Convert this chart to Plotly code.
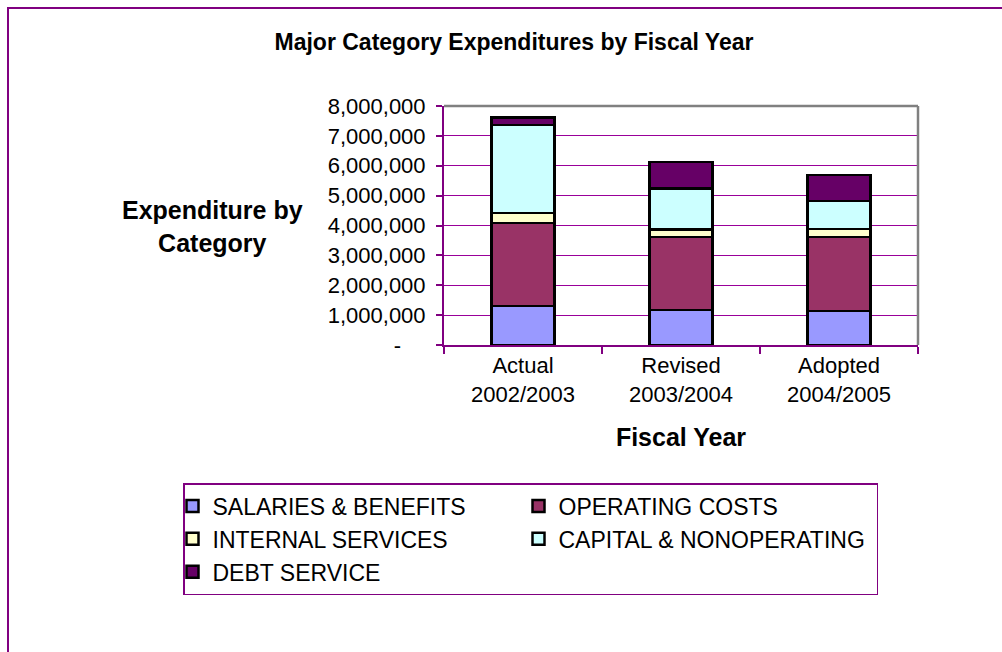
import plotly.graph_objects as go

# ---- data -------------------------------------------------------------
fiscal_years = ["Actual<br>2002/2003", "Revised<br>2003/2004", "Adopted<br>2004/2005"]

series_names = [
    "SALARIES & BENEFITS",
    "OPERATING COSTS",
    "INTERNAL SERVICES",
    "CAPITAL & NONOPERATING",
    "DEBT SERVICE",
]
salaries_benefits = [1300000, 1180000, 1140000]
operating_costs = [2780000, 2430000, 2480000]
internal_services = [340000, 250000, 260000]
capital_nonoperating = [2940000, 1380000, 940000]
debt_service = [260000, 890000, 870000]

series_colors = ["#9999FF", "#993366", "#FFFFCC", "#CCFFFF", "#660066"]

y_tick_values = [0, 1000000, 2000000, 3000000, 4000000, 5000000, 6000000, 7000000, 8000000]
y_tick_labels = ["-\u2007\u2007", "1,000,000", "2,000,000", "3,000,000", "4,000,000",
                 "5,000,000", "6,000,000", "7,000,000", "8,000,000"]

# ---- page geometry (pixels) ------------------------------------------
W, H = 1002, 652
L, R, T, B = 444, 84, 106, 307
PW, PH = W - L - R, H - T - B

def px_x(p):
    return (p - L) / PW

def px_y(p):
    return (H - B - p) / PH

FONT = "Liberation Sans, Arial, sans-serif"
PURPLE = "#800080"
GRID = "#990099"
GREY = "#808080"

fig = go.Figure()
all_series = [salaries_benefits, operating_costs, internal_services,
              capital_nonoperating, debt_service]
for name, values, color in zip(series_names, all_series, series_colors):
    fig.add_trace(go.Bar(
        name=name,
        x=fiscal_years,
        y=values,
        marker=dict(color=color, line=dict(color="#000000", width=2.5)),
    ))

fig.update_layout(
    width=W,
    height=H,
    margin=dict(l=L, r=R, t=T, b=B, pad=0),
    paper_bgcolor="white",
    plot_bgcolor="white",
    barmode="stack",
    bargap=0.6,
    font=dict(family=FONT, size=22, color="#000000"),
    title=dict(
        text="<b>Major Category Expenditures by Fiscal Year</b>",
        font=dict(family=FONT, size=23, color="#000000"),
        x=514 / W, xanchor="center", xref="container",
        y=1 - 42 / H, yanchor="middle", yref="container",
    ),
    showlegend=True,
    legend=dict(
        orientation="h",
        traceorder="normal",
        x=px_x(183), xanchor="left",
        y=px_y(483), yanchor="top",
        entrywidth=313, entrywidthmode="pixels",
        indentation=-12,
        bordercolor=PURPLE, borderwidth=1.5,
        bgcolor="white",
        font=dict(family=FONT, size=23, color="#000000"),
    ),
    xaxis=dict(
        type="category",
        showgrid=False,
        showline=True, linecolor=PURPLE, linewidth=2,
        ticks="outside", ticklen=7, tickwidth=1.5, tickcolor=PURPLE,
        tickson="boundaries",
        tickfont=dict(family=FONT, size=22),
        title=dict(text="<b>Fiscal Year</b>", font=dict(family=FONT, size=25), standoff=22),
        fixedrange=True,
    ),
    yaxis=dict(
        range=[0, 8000000],
        tickvals=y_tick_values,
        ticktext=y_tick_labels,
        showgrid=True, gridcolor=GRID, gridwidth=1.2,
        showline=True, linecolor=PURPLE, linewidth=2,
        ticks="outside", ticklen=6, tickwidth=1.5, tickcolor=PURPLE,
        tickfont=dict(family=FONT, size=22),
        ticklabelstandoff=6,
        zeroline=False,
        fixedrange=True,
    ),
    annotations=[
        dict(
            text="<b>Expenditure by<br>Category</b>",
            xref="paper", yref="paper",
            x=px_x(212), y=px_y(226),
            xanchor="center", yanchor="middle",
            showarrow=False, align="center",
            font=dict(family=FONT, size=25, color="#000000"),
        )
    ],
    shapes=[
        # grey frame on the top and right of the plot area
        dict(type="line", xref="paper", yref="paper", x0=0, x1=1, y0=1, y1=1,
             line=dict(color=GREY, width=2.5), layer="above"),
        dict(type="line", xref="paper", yref="paper", x0=1, x1=1, y0=0, y1=1,
             line=dict(color=GREY, width=2.5), layer="above"),
        # outer chart border
        dict(type="rect", xref="paper", yref="paper",
             x0=px_x(8), x1=px_x(1010), y0=px_y(660), y1=px_y(8),
             line=dict(color=PURPLE, width=2), fillcolor="rgba(0,0,0,0)", layer="below"),
    ],
)

fig.write_html("out.html")
